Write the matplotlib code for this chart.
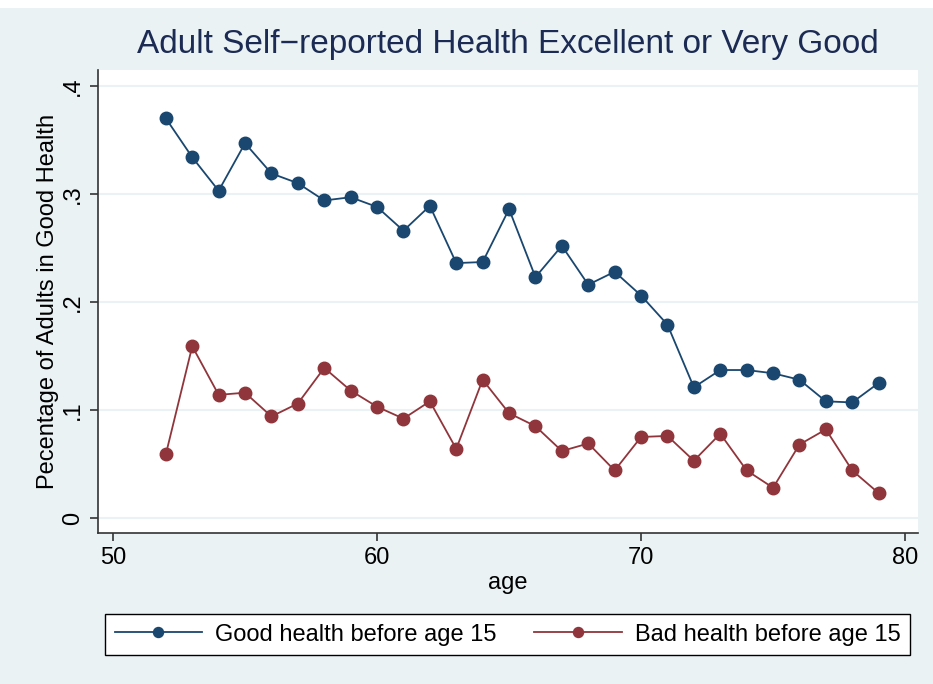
import matplotlib
matplotlib.use("Agg")
import matplotlib.pyplot as plt
from matplotlib.patches import Rectangle

plt.rcParams['font.family'] = ['Liberation Sans', 'DejaVu Sans']

ages = list(range(52, 80))
good_health = [0.370, 0.334, 0.303, 0.347, 0.319, 0.310, 0.294, 0.297, 0.288, 0.266,
               0.289, 0.236, 0.237, 0.286, 0.223, 0.252, 0.216, 0.228, 0.206, 0.179,
               0.121, 0.137, 0.137, 0.134, 0.128, 0.108, 0.107, 0.125]
bad_health = [0.059, 0.159, 0.114, 0.116, 0.094, 0.106, 0.139, 0.118, 0.103, 0.092,
              0.108, 0.064, 0.128, 0.097, 0.085, 0.062, 0.069, 0.044, 0.075, 0.076,
              0.053, 0.078, 0.044, 0.028, 0.068, 0.082, 0.044, 0.023]
series_labels = ["Good health before age 15", "Bad health before age 15"]
x_ticks = [50, 60, 70, 80]
y_ticks = [0, 0.1, 0.2, 0.3, 0.4]
y_tick_labels = ["0", ".1", ".2", ".3", ".4"]

BG = "#EAF2F3"
NAVY = "#1A476F"
MAROON = "#90353B"

fig = plt.figure(figsize=(9.33, 6.84), dpi=100, facecolor=BG)
# white strip at top
fig.patches.append(Rectangle((0, 1 - 8/684), 1, 8/684, transform=fig.transFigure,
                             facecolor="white", edgecolor="none", zorder=0))

ax = fig.add_axes([98/933, 1 - 533/684, (918 - 98)/933, (533 - 70)/684])
ax.set_facecolor("white")

ax.plot(ages, good_health, color=NAVY, lw=1.3, marker="o", ms=9, label=series_labels[0], zorder=3)
ax.plot(ages, bad_health, color=MAROON, lw=1.3, marker="o", ms=9, label=series_labels[1], zorder=3)

ax.set_xlim(49.43, 80.49)
ax.set_ylim(-0.0139, 0.4148)
ax.set_xticks(x_ticks)
ax.set_yticks(y_ticks)
ax.set_yticklabels(y_tick_labels, rotation=90, va="center")
ax.grid(axis="y", color=BG, lw=1.5, zorder=0)
ax.set_axisbelow(True)

for s in ["top", "right"]:
    ax.spines[s].set_visible(False)
for s in ["left", "bottom"]:
    ax.spines[s].set_color("#333333")
    ax.spines[s].set_linewidth(1.2)

ax.tick_params(axis="both", direction="out", length=6, width=1.2, color="#333333",
               labelsize=17, labelcolor="black", pad=4)

ax.set_xlabel("age", fontsize=17, labelpad=2)
ax.set_ylabel("Pecentage of Adults in Good Health", fontsize=17, labelpad=2)

fig.text(508/933, 1 - 45/684, "Adult Self\u2212reported Health Excellent or Very Good",
         ha="center", va="center", fontsize=24, color="#1C2B54")

leg = fig.legend(loc="center",
                 bbox_to_anchor=(507.5/933, 1 - 634.5/684),
                 ncol=2, fontsize=17, frameon=True, fancybox=False,
                 edgecolor="black", facecolor="white", framealpha=1,
                 handlelength=3.7, borderaxespad=0, borderpad=0.4,
                 markerscale=0.8, columnspacing=1.6, handletextpad=0.55)
leg.get_frame().set_linewidth(1.0)

fig.savefig("out.png", dpi=100, facecolor=BG)
